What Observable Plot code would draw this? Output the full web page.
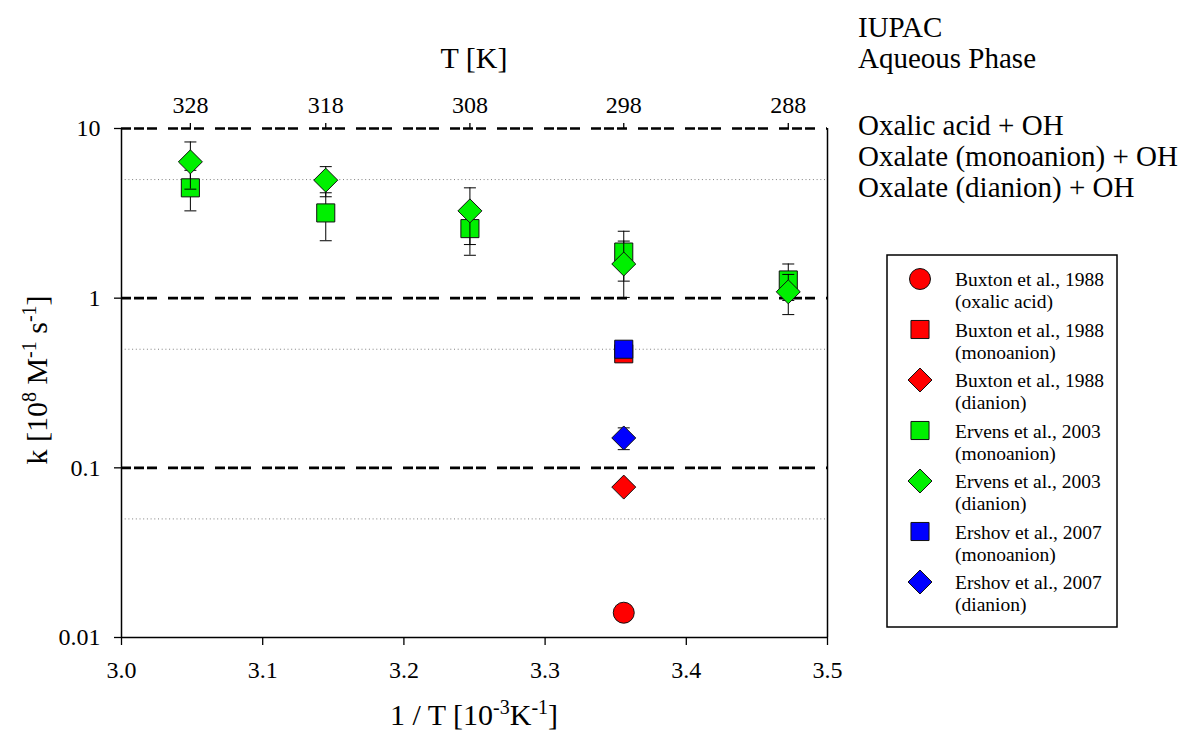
<!DOCTYPE html>
<html><head><meta charset="utf-8">
<script src="https://cdn.jsdelivr.net/npm/d3@7"></script>
<script src="https://cdn.jsdelivr.net/npm/@observablehq/plot@0.6"></script>
<style>body{margin:0;background:#fff} svg{display:block} svg text, svg tspan{font-family:"Liberation Serif","Times New Roman",serif !important}</style>
</head><body><div id="chart"></div>
<script>
// ---- data ----
const tempsK = [328, 318, 308, 298, 288];
const ervensMono = [4.47, 3.18, 2.57, 1.87, 1.28];
const ervensMonoErr = [1.20, 1.00, 0.78, 0.61, 0.31];
const ervensDi = [6.36, 4.96, 3.27, 1.59, 1.09];
const ervensDiErr = [1.97, 1.00, 1.20, 0.58, 0.29];
const buxtonT = 298;
const buxtonAcid = [0.014];
const buxtonMono = [0.47];
const buxtonDi = [0.077];
const ershovT = 298;
const ershovMono = [0.50];
const ershovDi = [0.15];
const ershovDiErr = [0.022];
const xTicks = [3.0, 3.1, 3.2, 3.3, 3.4, 3.5];
const yLabels = [0.01, 0.05, 0.1, 0.5, 1, 5, 10];
const yMajor = [0.01, 0.1, 1, 10];
const dashedLevels = [0.1, 1, 10];
const dottedLevels = [0.05, 0.5, 5];
const headerLines = ["IUPAC", "Aqueous Phase"];
const reactionLines = ["Oxalic acid + OH", "Oxalate (monoanion) + OH", "Oxalate (dianion) + OH"];
const legendNames = ["Buxton et al., 1988", "Buxton et al., 1988", "Buxton et al., 1988",
  "Ervens et al., 2003", "Ervens et al., 2003", "Ershov et al., 2007", "Ershov et al., 2007"];
const legendSubs = ["(oxalic acid)", "(monoanion)", "(dianion)", "(monoanion)", "(dianion)", "(monoanion)", "(dianion)"];
const legendSymbols = ["circle", "square", "diamond", "square", "diamond", "square", "diamond"];
const legendColors = ["red", "red", "red", "green", "green", "blue", "blue"];

const COL = {red: "#ff0000", green: "#00f000", blue: "#0000ff"};
const R = {circle: 10.5, square: 10.2, diamond: 10.8};
const FONT = "'Liberation Serif', 'Times New Roman', serif";

const inv = t => 1000 / t;
const rowsOf = (temps, vals, errs) => vals.map((v, i) => ({
  x: inv(temps[i]), k: v,
  lo: errs ? v - errs[i] : v, hi: errs ? v + errs[i] : v
}));
const ervMonoRows = rowsOf(tempsK, ervensMono, ervensMonoErr);
const ervDiRows = rowsOf(tempsK, ervensDi, ervensDiErr);
const buxAcidRows = rowsOf([buxtonT], buxtonAcid);
const buxMonoRows = rowsOf([buxtonT], buxtonMono);
const buxDiRows = rowsOf([buxtonT], buxtonDi);
const ershMonoRows = rowsOf([ershovT], ershovMono);
const ershDiRows = rowsOf([ershovT], ershovDi, ershovDiErr);

const capSymbol = {draw(ctx) { ctx.moveTo(-6, 0); ctx.lineTo(6, 0); }};
const errMarks = rows => [
  Plot.ruleX(rows, {x: "x", y1: "lo", y2: "hi", stroke: "black", strokeWidth: 1}),
  Plot.dot(rows, {x: "x", y: "lo", symbol: capSymbol, r: 5, fill: "none", stroke: "black", strokeWidth: 1}),
  Plot.dot(rows, {x: "x", y: "hi", symbol: capSymbol, r: 5, fill: "none", stroke: "black", strokeWidth: 1})
];
const dotMark = (rows, sym, color) => Plot.dot(rows, {
  x: "x", y: "k", symbol: sym === "diamond" ? "diamond2" : sym, r: R[sym],
  fill: COL[color], stroke: "#111", strokeWidth: 1
});

const chart = Plot.plot({
  width: 1179, height: 731,
  marginLeft: 121, marginRight: 352, marginTop: 128, marginBottom: 94,
  style: {fontFamily: FONT, color: "black", background: "white", overflow: "visible"},
  x: {domain: [3.0, 3.5]},
  y: {type: "log", domain: [0.01, 10]},
  marks: [
    Plot.ruleY(dottedLevels, {stroke: "#808080", strokeWidth: 1, strokeDasharray: "1,2.7"}),
    Plot.ruleY(dashedLevels, {stroke: "black", strokeWidth: 2.6, strokeDasharray: "10,3,10,3,10,11"}),
    Plot.ruleY([0.01], {stroke: "black", strokeWidth: 1.5}),
    Plot.ruleX([3.0, 3.5], {stroke: "black", strokeWidth: 1.5}),
    Plot.axisX({ticks: xTicks, tickFormat: d3.format(".1f"), tickSize: 8, tickPadding: 15, fontSize: 24, fontFamily: FONT, label: null, strokeWidth: 1.3}),
    Plot.axisX({anchor: "top", ticks: tempsK.map(inv), tickFormat: d => String(Math.round(1000 / d)), tickSize: 6, tickPadding: 10, fontSize: 24, fontFamily: FONT, label: null, strokeWidth: 1.3}),
    Plot.axisY({ticks: yMajor, tickFormat: () => "", tickSize: 7, label: null, strokeWidth: 1.3}),
    Plot.axisY({ticks: yLabels, tickFormat: d => String(d), tickSize: 0, tickPadding: 21, fontSize: 24, fontFamily: FONT, label: null}),
    // Ervens monoanion (below diamonds)
    ...errMarks(ervMonoRows),
    dotMark(ervMonoRows, "square", "green"),
    ...errMarks(ervDiRows),
    dotMark(ervDiRows, "diamond", "green"),
    // Buxton / Ershov at 298 K
    dotMark(buxMonoRows, "square", "red"),
    dotMark(ershMonoRows, "square", "blue"),
    ...errMarks(ershDiRows),
    dotMark(ershDiRows, "diamond", "blue"),
    dotMark(buxDiRows, "diamond", "red"),
    dotMark(buxAcidRows, "circle", "red")
  ]
});
document.getElementById("chart").appendChild(chart);

// ---- annotations (titles, header, legend) ----
const svg = d3.select(chart);
svg.attr("font-family", FONT).style("font-family", FONT);
const g = svg.append("g").attr("font-family", FONT).attr("fill", "black").attr("text-anchor", "start");

// top axis title
g.append("text").attr("x", 474).attr("y", 68).attr("text-anchor", "middle").attr("font-size", 30).text("T [K]");

// bottom axis title
const xt = g.append("text").attr("x", 474).attr("y", 725).attr("text-anchor", "middle").attr("font-size", 30);
xt.append("tspan").text("1 / T [10");
xt.append("tspan").attr("dy", -11).attr("font-size", 20).text("-3");
xt.append("tspan").attr("dy", 11).text("K");
xt.append("tspan").attr("dy", -11).attr("font-size", 20).text("-1");
xt.append("tspan").attr("dy", 11).text("]");

// y axis title
const yt = g.append("text").attr("transform", "translate(47,380) rotate(-90)").attr("text-anchor", "middle").attr("font-size", 30);
yt.append("tspan").text("k [10");
yt.append("tspan").attr("dy", -11).attr("font-size", 20).text("8");
yt.append("tspan").attr("dy", 11).text(" M");
yt.append("tspan").attr("dy", -11).attr("font-size", 20).text("-1");
yt.append("tspan").attr("dy", 11).text(" s");
yt.append("tspan").attr("dy", -11).attr("font-size", 20).text("-1");
yt.append("tspan").attr("dy", 11).text("]");

// header text
headerLines.forEach((t, i) => g.append("text").attr("x", 858).attr("y", 37 + i * 31).attr("font-size", 29).text(t));
reactionLines.forEach((t, i) => g.append("text").attr("x", 858).attr("y", 135 + i * 31).attr("font-size", 29).text(t));

// legend
const lg = svg.append("g").attr("font-family", FONT).attr("text-anchor", "start").attr("fill", "black");
lg.append("rect").attr("x", 887).attr("y", 255).attr("width", 230).attr("height", 372)
  .attr("fill", "white").attr("stroke", "black").attr("stroke-width", 1.5);
const symType = {circle: d3.symbolCircle, square: d3.symbolSquare, diamond: d3.symbolDiamond2};
legendNames.forEach((name, i) => {
  const cy = 279 + i * 50.5;
  const sym = legendSymbols[i];
  lg.append("path").attr("transform", `translate(920,${cy})`)
    .attr("d", d3.symbol().type(symType[sym]).size(Math.PI * R[sym] * R[sym])())
    .attr("fill", COL[legendColors[i]]).attr("stroke", "#111").attr("stroke-width", 1);
  lg.append("text").attr("x", 955).attr("y", cy + 7).attr("font-size", 19.5).text(name);
  lg.append("text").attr("x", 955).attr("y", cy + 29).attr("font-size", 19.5).text(legendSubs[i]);
});

// make sure every text (including Plot's axis labels) uses the serif face
svg.selectAll("text").attr("font-family", FONT).style("font-family", FONT);
</script></body></html>
